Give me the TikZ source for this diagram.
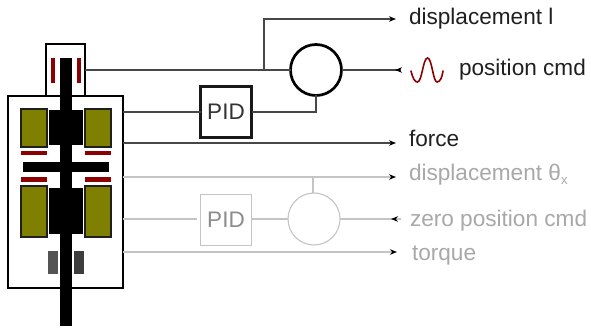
\documentclass[tikz,border=0pt]{standalone}
\usepackage{fontspec}
\setmainfont{Liberation Sans}
\usetikzlibrary{arrows.meta}
\definecolor{coil}{HTML}{808000}
\definecolor{barred}{HTML}{8B0000}
\definecolor{linegray}{HTML}{C4C4C4}
\definecolor{textgray}{HTML}{A8A8A8}
\tikzset{
  x=1pt,y=-1pt,
  conn/.style={draw=black!72,line width=1.2pt},
  connlight/.style={draw=linegray,line width=1.2pt},
  tip/.style={-{Stealth[length=7pt,width=5.5pt,inset=2.2pt,black]}},
  frame/.style={draw=black,line width=2.7pt,fill=none,inner sep=0pt,outer sep=0pt},
  pidbox/.style={draw=black!90,line width=2.1pt,fill=white,minimum width=51pt,minimum height=51pt,inner sep=0pt,outer sep=0pt,font=\fontsize{22.5}{24}\selectfont,text=black!80},
  pidlight/.style={draw=linegray,line width=1.1pt,fill=white,minimum width=51pt,minimum height=51pt,inner sep=0pt,outer sep=0pt,font=\fontsize{22.5}{24}\selectfont,text=black!45},
  sumdark/.style={circle,draw=black,line width=2.7pt,fill=white,minimum size=51pt,inner sep=0pt,outer sep=0pt},
  sumlight/.style={circle,draw=linegray,line width=1.1pt,fill=white,minimum size=52pt,inner sep=0pt,outer sep=0pt},
  lab/.style={anchor=base west,inner sep=0pt,outer sep=0pt,font=\fontsize{22.6}{24}\selectfont,text=black!88},
  lablight/.style={lab,text=textgray},
  coilpart/.style={draw=black!88,line width=1.3pt,fill=coil},
}
\begin{document}
\begin{tikzpicture}
\useasboundingbox (0,0) rectangle (591,331);
% housings
\node[frame,minimum width=115pt,minimum height=192pt,anchor=north west] (outer) at (8,96) {};
\node[frame,minimum width=39pt,minimum height=52pt,anchor=north west] (top) at (46,44) {};
% actuator internals
\fill[barred] (51,58) rectangle (55,83);
\fill[barred] (77,58) rectangle (81,83);
\path[coilpart] (21,109) rectangle (47,147);
\path[coilpart] (85,109) rectangle (111,147);
\fill[black] (49,110) rectangle (83,145);
\fill[barred] (21,151) rectangle (47,155.5);
\fill[barred] (85,151) rectangle (111,155.5);
\fill[black] (23,162) rectangle (109,172);
\fill[barred] (21,177.5) rectangle (47,182);
\fill[barred] (85,177.5) rectangle (111,182);
\path[coilpart] (21,186) rectangle (47,237);
\path[coilpart] (85,186) rectangle (111,237);
\fill[black] (49,188) rectangle (83,234);
\fill[black!67] (48,251) rectangle (58,274);
\fill[black!76] (74,251) rectangle (84,274);
\fill[black] (60,58) rectangle (72,326);
% controllers
\node[pidbox] (pid) at (226,112) {PID};
\node[sumdark] (sum) at (316,70) {};
\node[pidlight] (pidz) at (226,220) {PID};
\node[sumlight] (sumz) at (314,219) {};
% free ends
\coordinate (dispEnd) at (396,19);
\coordinate (branch) at (264,70);
\coordinate (cmdEnd) at (401,70);
\coordinate (cmdTip) at (395,70);
\coordinate (forceEnd) at (396,143);
\coordinate (thetaEnd) at (396,177);
\coordinate (branchZ) at (313,177);
\coordinate (zeroEnd) at (401,219);
\coordinate (zeroTip) at (391,219);
\coordinate (torqueEnd) at (397,252);
\coordinate (pidzStub) at (197,219);
% dark connectors
\draw[conn] (top.east |- sum) -- (sum.west);
\draw[conn,tip] (branch) -- (branch |- dispEnd) -- (dispEnd);
\draw[conn] (outer.east |- pid) -- (pid.west);
\draw[conn] (pid.east) -| (sum.south);
\draw[conn] (sum.east) -- (cmdEnd);
\draw[conn,tip] (cmdEnd) -- (cmdTip);
\draw[conn,tip] (outer.east |- forceEnd) -- (forceEnd);
% light connectors
\draw[connlight,tip] (outer.east |- thetaEnd) -- (thetaEnd);
\draw[connlight] (branchZ) -- (sumz.north -| branchZ);
\draw[connlight] (outer.east |- pidzStub) -- (pidzStub);
\draw[connlight] (pidz.east |- sumz) -- (sumz.west);
\draw[connlight] (sumz.east) -- (zeroEnd);
\draw[connlight,tip] (zeroEnd) -- (zeroTip);
\draw[connlight,tip] (outer.east |- torqueEnd) -- (torqueEnd);
% sine
\draw[barred,line width=1.6pt,line cap=round] (411,71) .. controls (413,79) and (415,82) .. (417.5,82)
  .. controls (422,82) and (423,58) .. (427.5,58)
  .. controls (432,58) and (433,82) .. (437,82)
  .. controls (440,82) and (442,78) .. (443,71);
% labels
\node[lab] (l1) at (409,25) {displacement l};
\node[lab] (l2) at (459,76) {position cmd};
\node[lab] (l3) at (409,147) {force};
\node[lablight] (l4) at (409,181) {displacement θ\raisebox{-3.5pt}{\fontsize{13}{14}\selectfont x}};
\node[lablight] (l5) at (410,226) {zero position cmd};
\node[lablight] (l6) at (412,260) {torque};
\end{tikzpicture}
\end{document}
